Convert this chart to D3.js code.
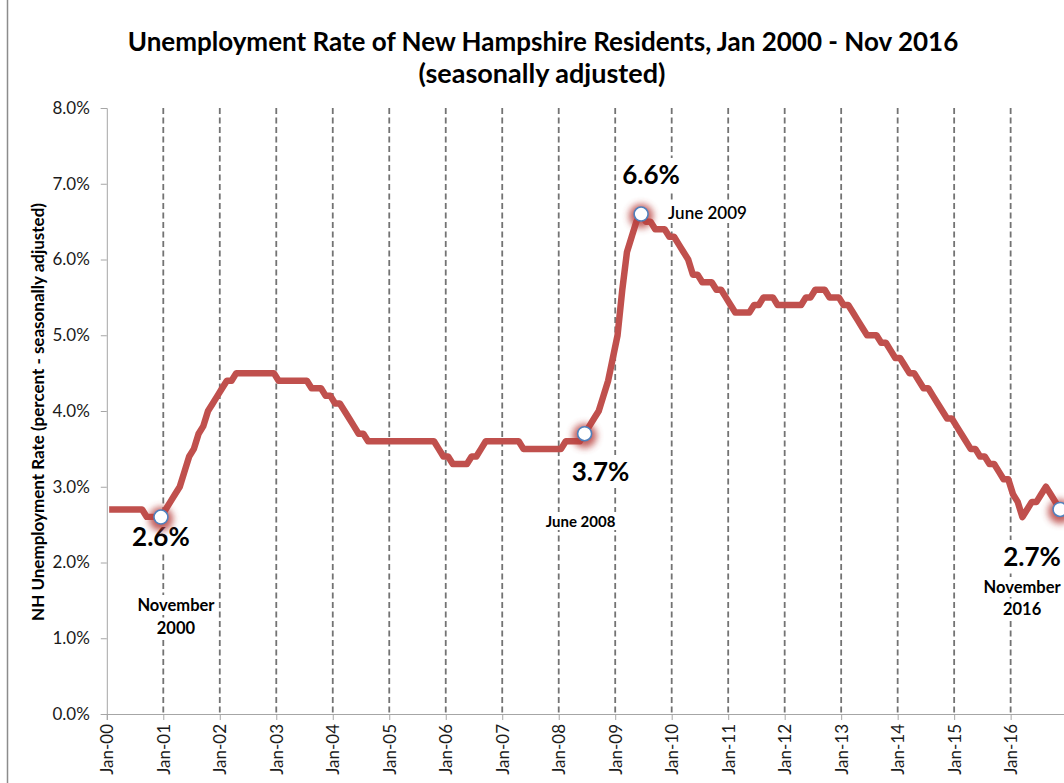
<!DOCTYPE html>
<html>
<head>
<meta charset="utf-8">
<script src="https://cdn.jsdelivr.net/npm/d3@7"></script>
<style>
  html, body { margin: 0; padding: 0; background: #fff; }
  svg { display: block; font-family: Lato, "Open Sans", sans-serif; }
</style>
</head>
<body>
<svg id="chart" width="1064" height="783"></svg>
<script>
// Monthly NH unemployment rate (%), seasonally adjusted, one array per year
const r2000 = [2.7, 2.7, 2.7, 2.7, 2.7, 2.7, 2.7, 2.7, 2.6, 2.6, 2.6, 2.6];
const r2001 = [2.7, 2.8, 2.9, 3.0, 3.2, 3.4, 3.5, 3.7, 3.8, 4.0, 4.1, 4.2];
const r2002 = [4.3, 4.4, 4.4, 4.5, 4.5, 4.5, 4.5, 4.5, 4.5, 4.5, 4.5, 4.5];
const r2003 = [4.4, 4.4, 4.4, 4.4, 4.4, 4.4, 4.4, 4.3, 4.3, 4.3, 4.2, 4.2];
const r2004 = [4.1, 4.1, 4.0, 3.9, 3.8, 3.7, 3.7, 3.6, 3.6, 3.6, 3.6, 3.6];
const r2005 = [3.6, 3.6, 3.6, 3.6, 3.6, 3.6, 3.6, 3.6, 3.6, 3.6, 3.5, 3.4];
const r2006 = [3.4, 3.3, 3.3, 3.3, 3.3, 3.4, 3.4, 3.5, 3.6, 3.6, 3.6, 3.6];
const r2007 = [3.6, 3.6, 3.6, 3.6, 3.5, 3.5, 3.5, 3.5, 3.5, 3.5, 3.5, 3.5];
const r2008 = [3.5, 3.6, 3.6, 3.6, 3.6, 3.7, 3.8, 3.9, 4.0, 4.2, 4.4, 4.7];
const r2009 = [5.0, 5.6, 6.1, 6.3, 6.5, 6.6, 6.5, 6.5, 6.4, 6.4, 6.4, 6.3];
const r2010 = [6.3, 6.2, 6.1, 6.0, 5.8, 5.8, 5.7, 5.7, 5.7, 5.6, 5.6, 5.5];
const r2011 = [5.4, 5.3, 5.3, 5.3, 5.3, 5.4, 5.4, 5.5, 5.5, 5.5, 5.4, 5.4];
const r2012 = [5.4, 5.4, 5.4, 5.4, 5.5, 5.5, 5.6, 5.6, 5.6, 5.5, 5.5, 5.5];
const r2013 = [5.4, 5.4, 5.3, 5.2, 5.1, 5.0, 5.0, 5.0, 4.9, 4.9, 4.8, 4.7];
const r2014 = [4.7, 4.6, 4.5, 4.5, 4.4, 4.3, 4.3, 4.2, 4.1, 4.0, 3.9, 3.9];
const r2015 = [3.8, 3.7, 3.6, 3.5, 3.5, 3.4, 3.4, 3.3, 3.3, 3.2, 3.1, 3.1];
const r2016 = [2.9, 2.8, 2.6, 2.7, 2.8, 2.8, 2.9, 3.0, 2.9, 2.8, 2.7];

const rates = [].concat(r2000, r2001, r2002, r2003, r2004, r2005, r2006, r2007,
  r2008, r2009, r2010, r2011, r2012, r2013, r2014, r2015, r2016);

// Axis labels
const xTickLabels = ["Jan-00", "Jan-01", "Jan-02", "Jan-03", "Jan-04", "Jan-05", "Jan-06",
  "Jan-07", "Jan-08", "Jan-09", "Jan-10", "Jan-11", "Jan-12", "Jan-13", "Jan-14", "Jan-15", "Jan-16"];
const yTicks = [0, 1, 2, 3, 4, 5, 6, 7, 8];

// Highlighted months: index into rates, value label and date caption lines
const calloutIndex = [11, 101, 113, 202];
const calloutValue = ["2.6%", "3.7%", "6.6%", "2.7%"];
const calloutDate = [["November", "2000"], ["June 2008"], ["June 2009"], ["November", "2016"]];

const svg = d3.select("#chart");

const x = d3.scaleLinear().domain([0, 204]).range([106.8, 106.8 + 204 * 4.7075]);
const y = d3.scaleLinear().domain([0, 8]).range([714, 108]);

const defs = svg.append("defs");
defs.append("filter").attr("id", "glow").attr("x", "-100%").attr("y", "-100%")
  .attr("width", "300%").attr("height", "300%")
  .append("feGaussianBlur").attr("stdDeviation", 3.6);

// Outer frame edge
svg.append("line").attr("x1", 7.5).attr("x2", 7.5).attr("y1", 0).attr("y2", 783)
  .attr("stroke", "#8c8c8c").attr("stroke-width", 1.5);

// Title
const title = svg.append("g").attr("font-weight", 700).attr("font-size", 26)
  .attr("text-anchor", "middle").attr("fill", "#000");
title.append("text").attr("x", 543).attr("y", 51)
  .text("Unemployment Rate of New Hampshire Residents, Jan 2000 - Nov 2016");
title.append("text").attr("x", 542).attr("y", 83).attr("font-size", 27)
  .text("(seasonally adjusted)");

// Vertical dashed year gridlines
const yearTicks = d3.range(0, 193, 12);
svg.append("g").selectAll("line").data(yearTicks.slice(1)).join("line")
  .attr("x1", d => x(d)).attr("x2", d => x(d))
  .attr("y1", y(8)).attr("y2", y(0))
  .attr("stroke", "#737373").attr("stroke-width", 1.8)
  .attr("stroke-dasharray", "6,3.5");

// Y axis
const yAxis = svg.append("g").attr("transform", `translate(${x(0)},0)`)
  .call(d3.axisLeft(y).tickValues(yTicks).tickSize(6).tickPadding(11)
    .tickFormat(d => d.toFixed(1) + "%"));
yAxis.select(".domain").attr("stroke", "#a6a6a6");
yAxis.selectAll(".tick line").attr("stroke", "#a6a6a6");
yAxis.selectAll(".tick text").attr("font-family", "Lato, sans-serif")
  .attr("font-size", 17).attr("fill", "#1a1a1a");

// X axis
const xAxis = svg.append("g").attr("transform", `translate(0,${y(0)})`)
  .call(d3.axisBottom(x).tickValues(yearTicks).tickSize(6)
    .tickFormat((d, i) => xTickLabels[i]));
xAxis.select(".domain").attr("stroke", "#a6a6a6");
xAxis.selectAll(".tick line").attr("stroke", "#a6a6a6");
xAxis.selectAll(".tick text").attr("font-family", "Lato, sans-serif")
  .attr("font-size", 17).attr("fill", "#1a1a1a")
  .attr("transform", "rotate(-90)").attr("text-anchor", "end")
  .attr("x", -10).attr("y", 0).attr("dy", "0.35em");

// Y axis title
svg.append("text").attr("transform", "translate(44,412) rotate(-90)")
  .attr("text-anchor", "middle").attr("font-weight", 700).attr("font-size", 17)
  .text("NH Unemployment Rate (percent - seasonally adjusted)");

// Rate line
svg.append("path").datum(rates)
  .attr("fill", "none").attr("stroke", "#c0504d").attr("stroke-width", 6.5)
  .attr("stroke-linejoin", "round").attr("stroke-linecap", "butt")
  .attr("d", d3.line().x((d, i) => x(i + 0.5)).y(d => y(d)));

// Callout labels (white boxes hide the gridlines behind them)
const labelLayer = svg.append("g");
function label(txt, cx, cy, size, weight, anchor) {
  const g = labelLayer.append("g");
  const t = g.append("text").attr("x", cx).attr("y", cy)
    .attr("font-size", size).attr("font-weight", weight)
    .attr("text-anchor", anchor || "middle").attr("fill", "#000").text(txt);
  const b = t.node().getBBox();
  g.insert("rect", "text").attr("x", b.x - 2).attr("y", b.y)
    .attr("width", b.width + 4).attr("height", b.height).attr("fill", "#fff");
}
// value labels
label(calloutValue[0], x(calloutIndex[0] + 0.5), 546, 26, 700);
label(calloutValue[1], x(calloutIndex[1] + 0.5) + 16, 481, 26, 700);
label(calloutValue[2], x(calloutIndex[2] + 0.5) + 10, 184, 26, 700);
label(calloutValue[3], x(calloutIndex[3] + 0.5) - 28, 566, 26, 700);
// date captions
label(calloutDate[0][0], x(calloutIndex[0] + 0.5) + 15, 611, 16.5, 700);
label(calloutDate[0][1], x(calloutIndex[0] + 0.5) + 15, 634, 16.5, 700);
label(calloutDate[1][0], x(calloutIndex[1] + 0.5) - 4, 527, 15, 700);
label(calloutDate[2][0], x(calloutIndex[2] + 0.5) + 27, 219, 17, 600, "start");
label(calloutDate[3][0], x(calloutIndex[3] + 0.5) - 38, 593, 16.5, 700);
label(calloutDate[3][1], x(calloutIndex[3] + 0.5) - 38, 615, 16.5, 700);

// Highlight markers with red glow
const marks = svg.append("g").selectAll("g").data(calloutIndex).join("g")
  .attr("transform", d => `translate(${x(d + 0.5)},${y(rates[d])})`);
marks.append("circle").attr("r", 12).attr("cy", 2).attr("fill", "#b8403d").attr("opacity", 0.85)
  .attr("filter", "url(#glow)");
marks.append("circle").attr("r", 7).attr("fill", "#fff")
  .attr("stroke", "#4f81bd").attr("stroke-width", 1.6);
</script>
</body>
</html>
